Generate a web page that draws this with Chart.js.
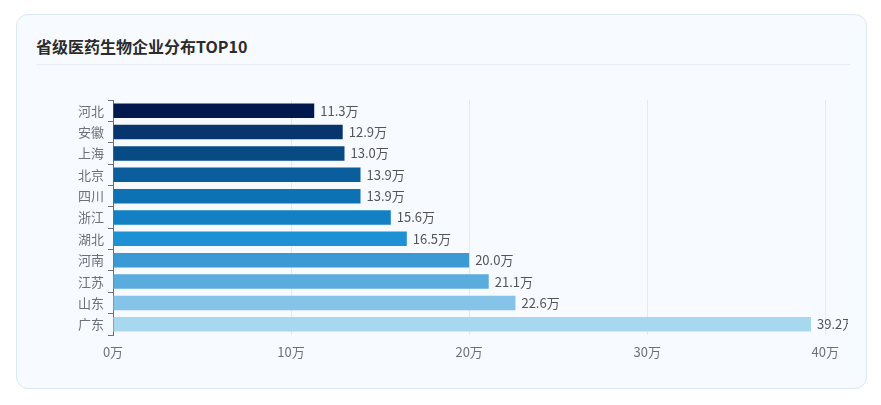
<!DOCTYPE html>
<html>
<head>
<meta charset="utf-8">
<script src="https://cdn.jsdelivr.net/npm/chart.js@4/dist/chart.umd.min.js"></script>
<style>
  body { margin: 0; background: #fff; font-family: "Noto Sans CJK SC", sans-serif; }
  #card {
    position: absolute; left: 16px; top: 14px; width: 849px; height: 373px;
    background: #f7faff; border: 1px solid #dbe7f4; border-radius: 12px; overflow: hidden;
  }
  #title {
    position: absolute; left: 19px; top: 19px; font-size: 16px; font-weight: bold; color: #2b2b2b;
  }
  #line { position: absolute; left: 19px; right: 16px; top: 49px; height: 1px; background: #e6edf6; }
  #wrap { position: absolute; left: 0; top: 55px; width: 831px; height: 318px; overflow: hidden; }
</style>
</head>
<body>
<div id="card">
  <div id="title">省级医药生物企业分布TOP10</div>
  <div id="line"></div>
  <div id="wrap"><canvas id="chart"></canvas></div>
</div>
<script>
var provinces = ["河北", "安徽", "上海", "北京", "四川", "浙江", "湖北", "河南", "江苏", "山东", "广东"];
var counts = [11.3, 12.9, 13.0, 13.9, 13.9, 15.6, 16.5, 20.0, 21.1, 22.6, 39.2];
var barColors = ["#02194d", "#06366d", "#074a84", "#0a5e9c", "#0e71b3", "#1380c3", "#1e90d4",
                 "#3b99d3", "#5aabde", "#85c3e8", "#a8d8ef"];
var xTicks = [0, 10, 20, 30, 40];

// value text at the end of each bar
var valueLabels = {
    id: 'valueLabels',
    afterDatasetsDraw: function(chart) {
        var ctx = chart.ctx;
        var meta = chart.getDatasetMeta(0);
        ctx.save();
        ctx.font = '13px "Noto Sans CJK SC", sans-serif';
        ctx.fillStyle = '#555';
        ctx.textAlign = 'left';
        ctx.textBaseline = 'middle';
        meta.data.forEach(function(bar, i) {
            ctx.fillText(counts[i].toFixed(1) + '万', bar.x + 6, bar.y);
        });
        ctx.restore();
    }
};

var ctx = document.getElementById("chart").getContext('2d');
var myChart = new Chart(ctx, {
    type: 'bar',
    data: {
        labels: provinces,
        datasets: [{
            data: counts,
            backgroundColor: barColors,
            barPercentage: 0.7,
            categoryPercentage: 0.97
        }]
    },
    options: {
        indexAxis: 'y',
        responsive: true,
        maintainAspectRatio: false,
        animation: false,
        layout: { padding: { left: 0, right: 20, top: 30, bottom: 23 } },
        plugins: { legend: { display: false }, tooltip: { enabled: false } },
        scales: {
            x: {
                min: 0, max: 40,
                afterBuildTicks: function(scale) {
                    scale.ticks = xTicks.map(function(v) { return { value: v }; });
                },
                afterFit: function(scale) { scale.height = 30; },
                border: { display: false },
                grid: { color: '#e3e9f2', drawTicks: false },
                ticks: {
                    padding: 9,
                    color: '#6e7079',
                    font: { size: 13, family: '"Noto Sans CJK SC", sans-serif' },
                    callback: function(v) { return v + '万'; }
                }
            },
            y: {
                afterFit: function(scale) { scale.width = 96; },
                border: { display: true, color: '#6e7079' },
                grid: { offset: true, drawOnChartArea: false, drawTicks: true, tickLength: 5, color: '#6e7079' },
                ticks: {
                    padding: 4,
                    color: '#6e7079',
                    font: { size: 13, family: '"Noto Sans CJK SC", sans-serif' }
                }
            }
        }
    },
    plugins: [valueLabels]
});
</script>
</body>
</html>
